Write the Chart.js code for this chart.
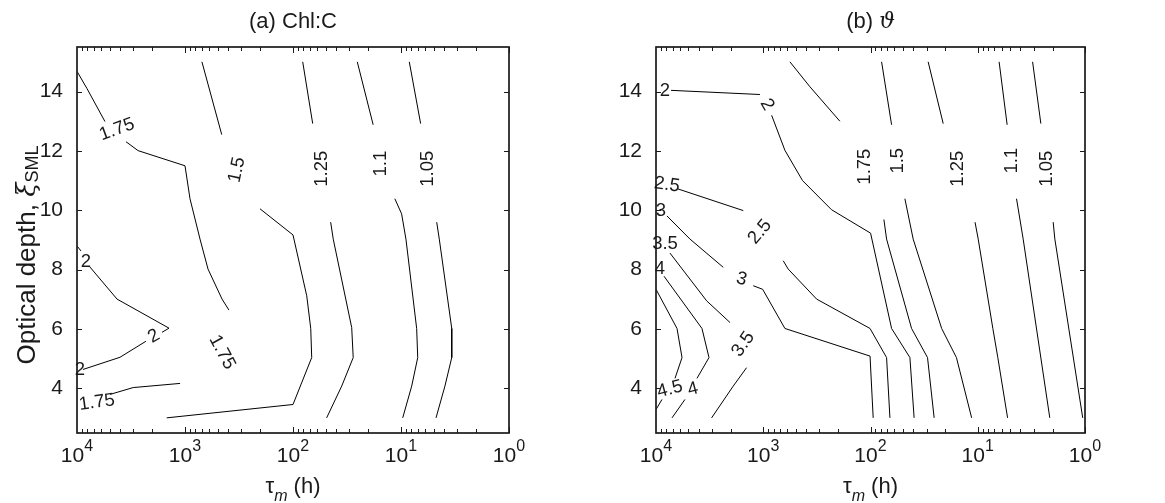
<!DOCTYPE html>
<html>
<head>
<meta charset="utf-8">
<script src="https://cdn.jsdelivr.net/npm/chart.js@4.4.1/dist/chart.umd.min.js"></script>
<style>
  body { margin: 0; background: #fff; width: 1165px; height: 503px; overflow: hidden; position: relative; }
  canvas { position: absolute; top: 0; }
</style>
</head>
<body>
<canvas id="chl" width="580" height="503" style="left:0"></canvas>
<canvas id="theta" width="585" height="503" style="left:580px"></canvas>
<script>
// axis ticks
const tauTicks = [10000, 1000, 100, 10, 1];
const xiTicks = [4, 6, 8, 10, 12, 14];

// (a) Chl:C contours as [tau (h), xi] points; each line is cut where its label sits
const chl2 = [
  [[10000, 8.80], [9180, 8.63]],
  [[7590, 8.09], [4260, 7.01], [1406, 6.03], [1633, 5.89]],
  [[2300, 5.59], [4000, 5.05], [8800, 4.64]]
];
const chl175 = [
  [[10000, 14.68], [8080, 14.10], [5510, 12.99]],
  [[3520, 12.31], [2720, 12.01], [1000, 11.50], [899, 10.39], [726, 9.03], [612, 8.02], [454, 7.01], [392, 6.64]],
  [[1110, 4.17], [3020, 4.03], [4940, 3.80]]
];
const chl15 = [
  [[697, 15.0], [457, 12.55]],
  [[202, 10.05], [100, 9.17], [74.6, 7.12], [68.5, 6.02], [67.1, 5.04], [100, 3.46], [1476, 3.01]]
];
const chl125 = [
  [[81.3, 15.0], [65.7, 12.92]],
  [[44.8, 9.6], [42.4, 9.03], [28.6, 6.05], [27.7, 5.04], [35.4, 4.08], [48.8, 3.01]]
];
const chl11 = [
  [[25.4, 15.0], [18.1, 12.88]],
  [[11.4, 10.39], [9.87, 9.88], [9.0, 9.03], [7.16, 6.02], [7.0, 5.04], [7.96, 4.08], [9.64, 3.01]]
];
const chl105 = [
  [[8.38, 15.0], [6.58, 12.92]],
  [[4.67, 9.6], [4.42, 9.03], [3.39, 6.02], [3.39, 5.04], [3.92, 4.08], [4.74, 3.01]]
];
// label text, tau, xi, rotation (deg)
const chlLabels = [
  ['1.75', 4260, 12.72, -20], ['1.75', 454, 5.22, 62], ['1.75', 6530, 3.53, -8],
  ['2', 8260, 8.27, 0], ['2', 1937, 5.76, -30], ['2', 9380, 4.61, 0],
  ['1.5', 330, 11.36, -78], ['1.25', 53.8, 11.4, -90], ['1.1', 15.3, 11.57, -90], ['1.05', 5.62, 11.4, -90]
];

// (b) theta contours
const th45 = [
  [[10000, 7.34], [6370, 6.02], [5720, 5.04], [6650, 4.34]],
  [[8790, 3.63], [10000, 3.29]]
];
const th4 = [
  [[8420, 7.78], [3727, 6.02], [3206, 5.04], [4150, 4.34]],
  [[5370, 3.63], [7090, 3.01]]
];
const th35 = [
  [[7410, 8.56], [3370, 6.95], [2040, 6.22]],
  [[1430, 4.70], [1905, 4.08], [3030, 3.01]]
];
const th3 = [
  [[7900, 9.81], [4820, 9.03], [2360, 8.08]],
  [[1240, 7.46], [1013, 7.34], [628, 6.02], [101, 5.09], [94.4, 3.01]]
];
const th25 = [
  [[6240, 10.72], [1535, 9.99]],
  [[651, 8.30], [585, 8.02], [318, 7.01], [101, 6.02], [70.8, 5.04], [65.9, 3.01]]
];
const th2 = [
  [[7240, 14.04], [1074, 13.90]],
  [[835, 13.20], [628, 12.02], [430, 11.0], [231, 10.02], [99.8, 9.23], [63.6, 6.02], [42.9, 5.04], [39.2, 3.01]]
];
const th175 = [
  [[564, 15.0], [367, 14.16], [193, 13.0]],
  [[75, 9.69], [70.8, 9.03], [41.4, 6.02], [29.4, 5.04], [25.5, 3.01]]
];
const th15 = [
  [[78.8, 15.0], [63.6, 12.88]],
  [[47.8, 10.39], [40.0, 9.03], [21.7, 6.02], [15.8, 5.04], [11.4, 3.01]]
];
const th125 = [
  [[29.0, 15.0], [21.0, 12.92]],
  [[10.6, 9.6], [9.9, 9.03], [7.23, 6.02], [6.5, 5.04], [5.27, 3.01]]
];
const th11 = [
  [[6.32, 15.0], [5.32, 12.88]],
  [[4.35, 10.39], [3.77, 9.03], [2.13, 3.01]]
];
const th105 = [
  [[3.08, 15.0], [2.58, 12.92]],
  [[1.98, 9.6], [1.91, 9.03], [1.05, 3.01]]
];
const thLabels = [
  ['2', 8240, 14.03, 0], ['2', 924, 13.56, 60],
  ['2.5', 7900, 10.86, 8], ['2.5', 1074, 9.27, -50],
  ['3', 8980, 9.98, 0], ['3', 1590, 7.68, 15],
  ['3.5', 8240, 8.86, 0], ['3.5', 1535, 5.49, -55],
  ['4', 9180, 8.02, 0], ['4', 4520, 3.97, -15], ['4.5', 7410, 3.97, -15],
  ['1.75', 113, 11.47, -90], ['1.5', 55.2, 11.67, -90], ['1.25', 15.2, 11.4, -90],
  ['1.1', 4.84, 11.67, -90], ['1.05', 2.28, 11.4, -90]
];

const FONT = '"Liberation Sans", Arial, Helvetica, sans-serif';
const INK = '#1a1a1a';

function drawRun(ctx, parts, cx, baseline) {
  ctx.textAlign = 'left';
  ctx.textBaseline = 'alphabetic';
  const widths = parts.map(p => { ctx.font = p.font; return ctx.measureText(p.text).width; });
  let px = cx - widths.reduce((a, b) => a + b, 0) / 2;
  parts.forEach((p, i) => {
    ctx.font = p.font;
    ctx.fillText(p.text, px, baseline + (p.dy || 0));
    px += widths[i];
  });
}

const decor = {
  id: 'decor',
  afterDatasetsDraw(chart, args, opts) {
    const { ctx, scales: { x, y } } = chart;
    ctx.save();
    ctx.fillStyle = INK;
    ctx.font = `18.5px ${FONT}`;
    ctx.textAlign = 'center';
    ctx.textBaseline = 'middle';
    opts.labels.forEach(([text, t, xi, deg]) => {
      ctx.save();
      ctx.translate(x.getPixelForValue(t), y.getPixelForValue(xi));
      ctx.rotate(deg * Math.PI / 180);
      ctx.fillText(text, 0, 0);
      ctx.restore();
    });
    ctx.restore();
  },
  afterDraw(chart, args, opts) {
    const { ctx, chartArea: a, scales: { x, y } } = chart;
    ctx.save();
    ctx.strokeStyle = INK;
    ctx.fillStyle = INK;

    // inward ticks on all four sides
    ctx.lineWidth = 1;
    ctx.beginPath();
    for (let e = 0; e < 4; e++) {
      for (let k = 1; k < 10; k++) {
        const px = Math.round(x.getPixelForValue(k * Math.pow(10, e))) + 0.5;
        const len = k === 1 ? 6 : 4;
        ctx.moveTo(px, a.bottom); ctx.lineTo(px, a.bottom - len);
        ctx.moveTo(px, a.top); ctx.lineTo(px, a.top + len);
      }
    }
    xiTicks.forEach(v => {
      const py = Math.round(y.getPixelForValue(v)) + 0.5;
      ctx.moveTo(a.left, py); ctx.lineTo(a.left + 5, py);
      ctx.moveTo(a.right, py); ctx.lineTo(a.right - 5, py);
    });
    ctx.stroke();

    ctx.lineWidth = 1.7;
    ctx.strokeRect(a.left, a.top, a.right - a.left, a.bottom - a.top);

    // 10^n tick labels
    tauTicks.forEach(v => {
      drawRun(ctx, [
        { text: '10', font: `21px ${FONT}` },
        { text: String(Math.round(Math.log10(v))), font: `16px ${FONT}`, dy: -11 }
      ], x.getPixelForValue(v), a.bottom + 29);
    });

    const cx = (a.left + a.right) / 2;
    drawRun(ctx, opts.title, cx, 28);
    drawRun(ctx, [
      { text: 'τ', font: `22px ${FONT}` },
      { text: 'm', font: `italic 16px ${FONT}`, dy: 8 },
      { text: ' (h)', font: `22px ${FONT}` }
    ], cx, 493);

    if (opts.yTitle) {
      ctx.translate(35, 255);
      ctx.rotate(-Math.PI / 2);
      drawRun(ctx, [
        { text: 'Optical depth, ', font: `26px ${FONT}` },
        { text: 'ξ', font: `italic 26px "DejaVu Serif", serif` },
        { text: 'SML', font: `18px ${FONT}`, dy: 3 }
      ], 0, 0);
    }
    ctx.restore();
  }
};

function makeChart(id, contours, labels, title, yTitle, axisWidth, padRight) {
  const datasets = contours.flat().map(seg => ({
    data: seg.map(([t, xi]) => ({ x: t, y: xi })),
    showLine: true,
    borderColor: '#000',
    borderWidth: 1,
    pointRadius: 0,
    tension: 0
  }));
  return new Chart(document.getElementById(id), {
    type: 'scatter',
    data: { datasets },
    options: {
      responsive: false,
      animation: false,
      devicePixelRatio: 1,
      layout: { padding: { left: 0, right: padRight, top: 47, bottom: 0 } },
      plugins: {
        legend: { display: false },
        tooltip: { enabled: false },
        decor: { labels, title, yTitle }
      },
      scales: {
        x: {
          type: 'logarithmic', reverse: true, min: 1, max: 10000,
          ticks: { display: false },
          grid: { display: false },
          border: { display: false },
          afterFit: s => { s.height = 70; }
        },
        y: {
          type: 'linear', min: 2.5, max: 15.5,
          afterBuildTicks: s => { s.ticks = xiTicks.map(v => ({ value: v })); },
          ticks: { font: { family: FONT, size: 21 }, color: INK, padding: 6 },
          grid: { display: false },
          border: { display: false },
          afterFit: s => { s.width = axisWidth; }
        }
      }
    },
    plugins: [decor]
  });
}

makeChart('chl', [chl2, chl175, chl15, chl125, chl11, chl105], chlLabels,
  [{ text: '(a) Chl:C', font: `22px ${FONT}` }], true, 77, 71);
makeChart('theta', [th45, th4, th35, th3, th25, th2, th175, th15, th125, th11, th105], thLabels,
  [{ text: '(b) ', font: `22px ${FONT}` }, { text: 'ϑ', font: `italic 22px "DejaVu Serif", serif` }], false, 76, 80);
</script>
</body>
</html>
